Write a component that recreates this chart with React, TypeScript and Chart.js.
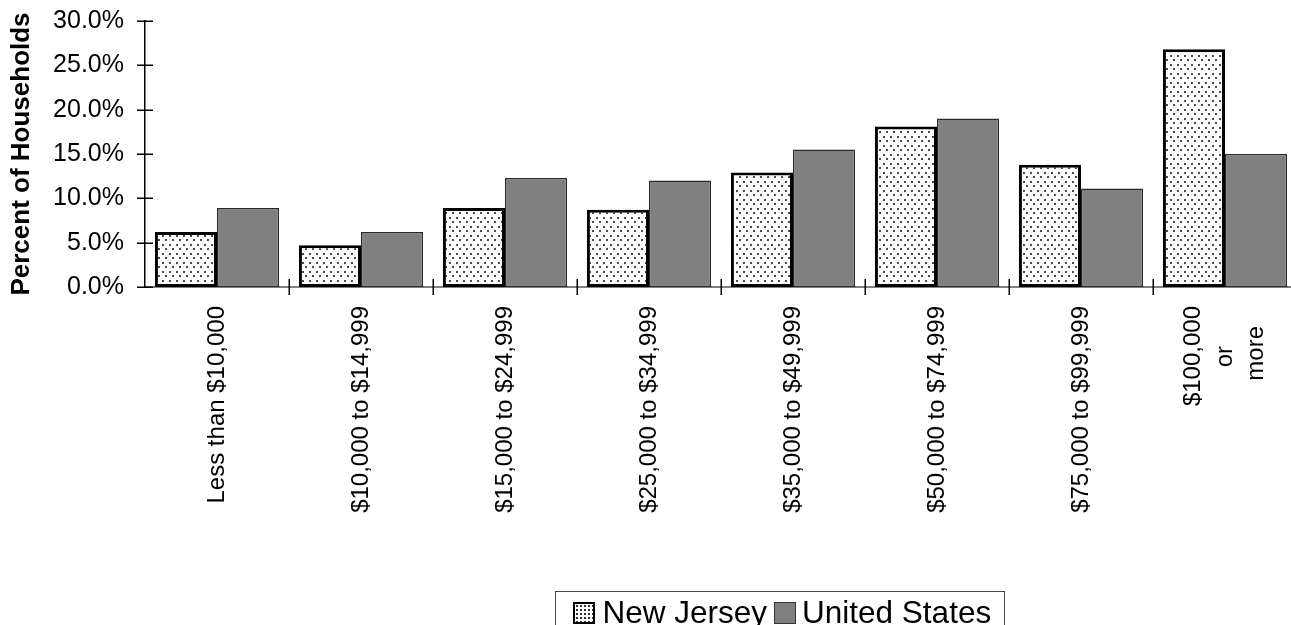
import React, { useEffect, useRef } from "react";
import { Chart, registerables } from "chart.js";

Chart.register(...registerables);

const categories: (string | string[])[] = [
  "Less than $10,000",
  "$10,000 to $14,999",
  "$15,000 to $24,999",
  "$25,000 to $34,999",
  "$35,000 to $49,999",
  "$50,000 to $74,999",
  "$75,000 to $99,999",
  ["$100,000", "or", "more"],
];
const newJersey = [6.2, 4.7, 8.9, 8.7, 12.9, 18.1, 13.8, 26.8];
const unitedStates = [8.9, 6.2, 12.3, 12.0, 15.5, 19.0, 11.1, 15.0];
const seriesNames = ["New Jersey", "United States"];
const yMin = 0;
const yMax = 30;
const yStep = 5;
const yTitle = "Percent of Households";

const FONT = '"Liberation Sans", Arial, Helvetica, sans-serif';
const X_FONT_SIZE = 24;

function makeDotPattern(): CanvasPattern | string {
  const c = document.createElement("canvas");
  c.width = 7;
  c.height = 9;
  const ctx = c.getContext("2d");
  if (!ctx) return "#fff";
  ctx.fillStyle = "#ffffff";
  ctx.fillRect(0, 0, 7, 9);
  ctx.fillStyle = "#4a4a4a";
  ctx.fillRect(1, 1, 2, 2);
  ctx.fillRect(4, 5, 2, 2);
  const p = ctx.createPattern(c, "repeat");
  return p || "#fff";
}

// centre the lines of a multi-line rotated label (Chart.js right-aligns them)
const measureCtx = document.createElement("canvas").getContext("2d");
function centreLines(lines: string[]): string[] {
  if (!measureCtx) return lines;
  measureCtx.font = `${X_FONT_SIZE}px ${FONT}`;
  const widths = lines.map((l) => measureCtx.measureText(l).width);
  const maxW = Math.max(...widths);
  const sp = measureCtx.measureText(" ").width;
  return lines.map((l, i) => l + " ".repeat(Math.max(0, Math.round((maxW - widths[i]) / 2 / sp))));
}

// centre rotated multi-line labels on their category
const centreMultiLine = {
  id: "centreMultiLine",
  beforeDraw(chart: any) {
    const x = chart.scales.x;
    const items = x.getLabelItems ? x.getLabelItems() : null;
    if (!items) return;
    items.forEach((it: any) => {
      if (Array.isArray(it.label) && it.label.length > 1 && !it.__shifted) {
        const lh = Number(it.font.lineHeight);
        it.textOffset -= ((it.label.length - 1) * lh) / 2;
        it.__shifted = true;
      }
    });
  },
};

const crossTicks = {
  id: "crossTicks",
  afterDraw(chart: any) {
    const ctx = chart.ctx;
    const x = chart.scales.x;
    const y = chart.scales.y;
    ctx.save();
    ctx.strokeStyle = "#000";
    ctx.lineWidth = 1.5;
    ctx.beginPath();
    for (let v = yMin; v <= yMax; v += yStep) {
      const py = Math.round(y.getPixelForValue(v)) + 0.25;
      ctx.moveTo(x.left - 8, py);
      ctx.lineTo(x.left + 8, py);
    }
    for (let i = 1; i <= categories.length; i++) {
      const px = Math.round(x.getPixelForValue(i - 0.5)) + 0.25;
      ctx.moveTo(px, y.bottom - 8);
      ctx.lineTo(px, y.bottom + 8);
    }
    ctx.stroke();
    ctx.restore();
  },
};

export default function App() {
  const ref = useRef<HTMLCanvasElement | null>(null);

  useEffect(() => {
    if (!ref.current) return;
    const pattern = makeDotPattern();
    const chart = new Chart(ref.current, {
      type: "bar",
      data: {
        labels: categories,
        datasets: [
          {
            label: seriesNames[0],
            data: newJersey,
            backgroundColor: pattern as any,
            borderColor: "#000000",
            borderWidth: 3,
            borderSkipped: false,
            categoryPercentage: 0.862,
            barPercentage: 1,
          },
          {
            label: seriesNames[1],
            data: unitedStates,
            backgroundColor: "#808080",
            borderColor: "#2a2a2a",
            borderWidth: 1.5,
            borderSkipped: false,
            categoryPercentage: 0.862,
            barPercentage: 1,
          },
        ],
      },
      options: {
        responsive: false,
        animation: false,
        devicePixelRatio: 1,
        layout: { padding: { left: 0, right: 3, top: 21, bottom: 0 } },
        plugins: {
          legend: { display: false },
          tooltip: { enabled: false },
        },
        scales: {
          x: {
            type: "category",
            offset: true,
            grid: { display: false, drawTicks: false },
            border: { display: true, color: "#808080", width: 2 },
            ticks: {
              autoSkip: false,
              minRotation: 90,
              maxRotation: 90,
              padding: 19,
              color: "#000",
              font: { family: FONT, size: X_FONT_SIZE, lineHeight: 1.3 },
              callback: (_v: any, i: number) => {
                const lab = categories[i];
                return Array.isArray(lab) ? centreLines(lab) : lab;
              },
            },
            afterFit(scale: any) {
              scale.height = 338;
              scale.paddingLeft = 0;
              scale.paddingRight = 0;
            },
          },
          y: {
            min: yMin,
            max: yMax,
            grid: { display: false, drawTicks: false },
            border: { display: true, color: "#000", width: 1.5 },
            ticks: {
              stepSize: yStep,
              padding: 21,
              color: "#000",
              font: { family: FONT, size: 25 },
              callback: (v: any) => Number(v).toFixed(1) + "%",
            },
            title: {
              display: true,
              text: yTitle,
              color: "#000",
              padding: { top: 6, bottom: 0 },
              font: { family: FONT, size: 26, weight: "bold" },
            },
            afterFit(scale: any) {
              scale.width = 145;
              scale.paddingTop = 0;
              scale.paddingBottom = 0;
            },
          },
        },
      },
      plugins: [centreMultiLine, crossTicks],
    });
    return () => chart.destroy();
  }, []);

  const swatchBase: React.CSSProperties = {
    display: "inline-block",
    width: 22,
    height: 22,
    boxSizing: "border-box",
    flex: "0 0 auto",
    marginTop: 7,
  };

  return (
    <div
      style={{
        position: "fixed",
        left: 0,
        top: 0,
        width: 1300,
        height: 625,
        overflow: "hidden",
        background: "#fff",
      }}
    >
      <canvas ref={ref} width={1300} height={625} style={{ display: "block" }} />
      <div
        style={{
          position: "absolute",
          left: 555,
          top: 591,
          width: 450,
          height: 50,
          boxSizing: "border-box",
          border: "1.5px solid #444",
          display: "flex",
          alignItems: "flex-start",
          paddingLeft: 16.5,
          paddingTop: 2.5,
          fontFamily: FONT,
          fontSize: 31.5,
          lineHeight: "34px",
          color: "#000",
          whiteSpace: "nowrap",
        }}
      >
        <span
          style={{
            ...swatchBase,
            border: "2px solid #000",
            backgroundColor: "#fff",
            backgroundImage: "radial-gradient(#333 0.9px, transparent 1.2px)",
            backgroundSize: "4px 4px",
          }}
        />
        <span style={{ marginLeft: 8 }}>{seriesNames[0]}</span>
        <span
          style={{
            ...swatchBase,
            marginLeft: 7,
            border: "1px solid #333",
            backgroundColor: "#808080",
          }}
        />
        <span style={{ marginLeft: 6 }}>{seriesNames[1]}</span>
      </div>
    </div>
  );
}
